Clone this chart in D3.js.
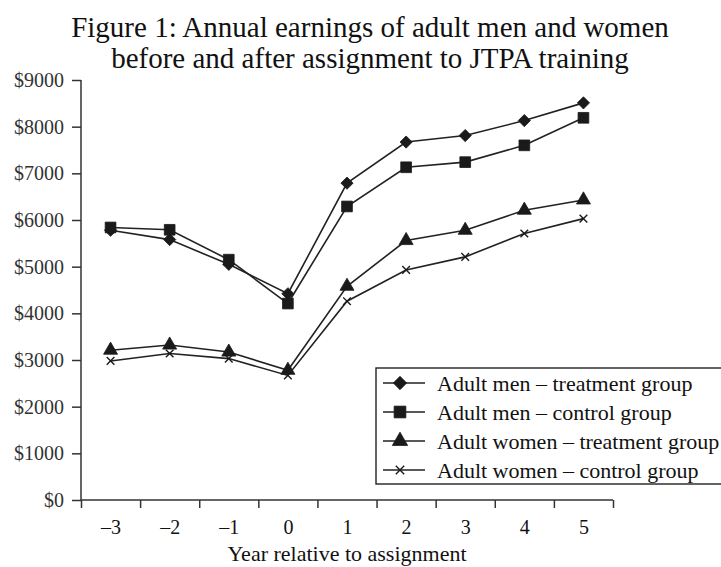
<!DOCTYPE html>
<html>
<head>
<meta charset="utf-8">
<script src="https://cdn.jsdelivr.net/npm/d3@7"></script>
<style>
  body { margin: 0; background: #fff; }
  text { font-family: "Liberation Serif", "Times New Roman", serif; fill: #111; }
</style>
</head>
<body>
<div id="chart"></div>
<script>
var width = 721, height = 567;

// data
var years = [-3, -2, -1, 0, 1, 2, 3, 4, 5];
var menTreatment   = [5780, 5580, 5050, 4420, 6790, 7670, 7810, 8130, 8510];
var menControl     = [5840, 5790, 5150, 4210, 6290, 7130, 7240, 7600, 8190];
var womenTreatment = [3210, 3320, 3170, 2780, 4580, 5560, 5780, 6210, 6430];
var womenControl   = [2980, 3140, 3030, 2670, 4260, 4930, 5210, 5710, 6030];
var seriesNames = ["Adult men \u2013 treatment group", "Adult men \u2013 control group",
                   "Adult women \u2013 treatment group", "Adult women \u2013 control group"];
var yTicks = [0, 1000, 2000, 3000, 4000, 5000, 6000, 7000, 8000, 9000];

var series = [
  { name: seriesNames[0], values: menTreatment,   symbol: d3.symbolDiamond2, size: 95 },
  { name: seriesNames[1], values: menControl,     symbol: d3.symbolSquare,   size: 115 },
  { name: seriesNames[2], values: womenTreatment, symbol: d3.symbolTriangle, size: 85 },
  { name: seriesNames[3], values: womenControl,   symbol: d3.symbolX,        size: 40 }
];

var svg = d3.select("#chart").append("svg")
  .attr("width", width).attr("height", height);

// title
svg.append("text").attr("x", 370).attr("y", 37).attr("text-anchor", "middle")
  .style("font-size", "29px").text("Figure 1: Annual earnings of adult men and women");
svg.append("text").attr("x", 370).attr("y", 68).attr("text-anchor", "middle")
  .style("font-size", "29px").text("before and after assignment to JTPA training");

var x = d3.scaleLinear().domain([-3.5, 5.5]).range([81, 613]);
var y = d3.scaleLinear().domain([0, 9000]).range([500, 80]);

// y axis
var yAxis = svg.append("g").attr("transform", "translate(81,0)")
  .call(d3.axisLeft(y).tickValues(yTicks).tickSize(9).tickPadding(8)
    .tickFormat(function(d) { return "$" + d; }));
yAxis.select(".domain").attr("d", "M0," + y(9000) + "V" + y(0));
yAxis.selectAll("text").style("font-size", "20px").style("fill", "#333").style("font-family", "Liberation Serif");

// x axis: ticks between the years, labels centred
var bounds = d3.range(-3.5, 6, 1);
var xAxis = svg.append("g").attr("transform", "translate(0,500)")
  .call(d3.axisBottom(x).tickValues(bounds).tickSize(8).tickFormat(""));
xAxis.select(".domain").attr("d", "M" + x(-3.5) + ",0H" + x(5.5));

var xLabels = svg.append("g").attr("transform", "translate(0,500)")
  .call(d3.axisBottom(x).tickValues(years).tickSize(0).tickPadding(0)
    .tickFormat(function(d) { return d < 0 ? "\u2013" + (-d) : d; }));
xLabels.select(".domain").remove();
xLabels.selectAll("text").attr("y", 34).attr("dy", 0)
  .style("font-size", "20px").style("font-family", "Liberation Serif").style("fill", "#111");

svg.selectAll(".domain, .tick line").attr("stroke", "#333").attr("stroke-width", 1.5);

svg.append("text").attr("x", 347).attr("y", 561).attr("text-anchor", "middle")
  .style("font-size", "22px").text("Year relative to assignment");

// lines and markers
var line = d3.line()
  .x(function(d, i) { return x(years[i]); })
  .y(function(d) { return y(d); });

series.forEach(function(s) {
  svg.append("path").datum(s.values)
    .attr("d", line).attr("fill", "none")
    .attr("stroke", "#222").attr("stroke-width", 1.6);

  svg.selectAll(null).data(s.values).enter().append("path")
    .attr("transform", function(d, i) { return "translate(" + x(years[i]) + "," + y(d) + ")"; })
    .attr("d", d3.symbol().type(s.symbol).size(s.size))
    .attr("fill", s.symbol === d3.symbolX ? "none" : "#1a1a1a")
    .attr("stroke", "#1a1a1a").attr("stroke-width", s.symbol === d3.symbolX ? 1.4 : 0.8);
});

// legend
var lg = svg.append("g").attr("transform", "translate(376,368)");
lg.append("rect").attr("width", 360).attr("height", 116)
  .attr("fill", "#fff").attr("stroke", "#222").attr("stroke-width", 1.4);

var rows = lg.selectAll(".row").data(series).enter().append("g")
  .attr("transform", function(d, i) { return "translate(0," + (15 + i * 29) + ")"; });
rows.append("line").attr("x1", 7).attr("x2", 49)
  .attr("stroke", "#222").attr("stroke-width", 1.6);
rows.append("path")
  .attr("transform", "translate(24,0)")
  .attr("d", function(d) { return d3.symbol().type(d.symbol).size(d.size * 1.2)(); })
  .attr("fill", function(d) { return d.symbol === d3.symbolX ? "none" : "#1a1a1a"; })
  .attr("stroke", "#1a1a1a").attr("stroke-width", function(d) { return d.symbol === d3.symbolX ? 1.4 : 0.8; });
rows.append("text").attr("x", 61).attr("y", 7.5)
  .style("font-size", "22px").text(function(d) { return d.name; });
</script>
</body>
</html>
